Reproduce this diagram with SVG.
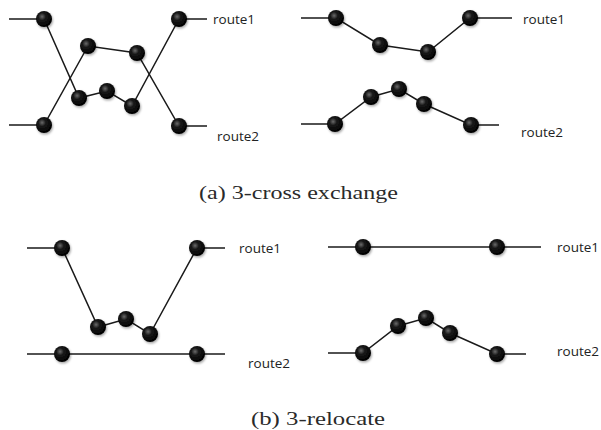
<svg xmlns="http://www.w3.org/2000/svg" width="601" height="430" viewBox="0 0 601 430">
  <defs>
    <radialGradient id="ball" cx="0.38" cy="0.35" r="0.65">
      <stop offset="0" stop-color="#6a6a6a"/>
      <stop offset="0.35" stop-color="#1a1a1a"/>
      <stop offset="1" stop-color="#000"/>
    </radialGradient>
    <filter id="shadow" x="-50%" y="-50%" width="200%" height="200%">
      <feDropShadow dx="1" dy="1.5" stdDeviation="1.2" flood-color="#000" flood-opacity="0.35"/>
    </filter>
  </defs>
  <style>
    .edge { stroke: #1a1a1a; stroke-width: 1.5; fill: none; }
    .node { fill: url(#ball); filter: url(#shadow); }
    .route { font-family: "Open Sans", "Liberation Sans", sans-serif; font-size: 13.5px; fill: #222; }
    .caption { font-family: "Liberation Serif", "DejaVu Serif", serif; font-size: 18px; fill: #2a2a2a; }
  </style>
  <rect width="601" height="430" fill="#fff"/>

  <!-- connectors -->
  <g id="connectors">
    <!-- (a) before exchange -->
    <polyline class="edge" points="9,19 44,19 79,98 107,91 132,106 179,19 207,19"/>
    <polyline class="edge" points="9,125 44,125 88,46 137,53 179,126 207,126"/>
    <!-- (a) after exchange -->
    <polyline class="edge" points="301,18 336,18 380,45 428,52 470,18 512,18"/>
    <polyline class="edge" points="301,124 335,124 371,97 399,89 424,104 471,125 499,125"/>
    <!-- (b) before relocate -->
    <polyline class="edge" points="27,248 62,248 98,327 126,319 150,334 197,248 225,248"/>
    <polyline class="edge" points="27,354 225,354"/>
    <!-- (b) after relocate -->
    <polyline class="edge" points="328,247 541,247"/>
    <polyline class="edge" points="328,353 363,353 398,326 426,318 450,333 497,354 526,354"/>
  </g>

  <!-- (a) left panel nodes -->
  <g id="a1-n1"><circle class="node" cx="44" cy="19" r="8"/></g>
  <g id="a1-n2"><circle class="node" cx="79" cy="98" r="8"/></g>
  <g id="a1-n3"><circle class="node" cx="107" cy="91" r="8"/></g>
  <g id="a1-n4"><circle class="node" cx="132" cy="106" r="8"/></g>
  <g id="a1-n5"><circle class="node" cx="179" cy="19" r="8"/></g>
  <g id="a1-n6"><circle class="node" cx="44" cy="125" r="8"/></g>
  <g id="a1-n7"><circle class="node" cx="88" cy="46" r="8"/></g>
  <g id="a1-n8"><circle class="node" cx="137" cy="53" r="8"/></g>
  <g id="a1-n9"><circle class="node" cx="179" cy="126" r="8"/></g>

  <!-- (a) right panel nodes -->
  <g id="a2-n1"><circle class="node" cx="336" cy="18" r="8"/></g>
  <g id="a2-n2"><circle class="node" cx="380" cy="45" r="8"/></g>
  <g id="a2-n3"><circle class="node" cx="428" cy="52" r="8"/></g>
  <g id="a2-n4"><circle class="node" cx="470" cy="18" r="8"/></g>
  <g id="a2-n5"><circle class="node" cx="335" cy="124" r="8"/></g>
  <g id="a2-n6"><circle class="node" cx="371" cy="97" r="8"/></g>
  <g id="a2-n7"><circle class="node" cx="399" cy="89" r="8"/></g>
  <g id="a2-n8"><circle class="node" cx="424" cy="104" r="8"/></g>
  <g id="a2-n9"><circle class="node" cx="471" cy="125" r="8"/></g>

  <!-- (b) left panel nodes -->
  <g id="b1-n1"><circle class="node" cx="62" cy="248" r="8"/></g>
  <g id="b1-n2"><circle class="node" cx="98" cy="327" r="8"/></g>
  <g id="b1-n3"><circle class="node" cx="126" cy="319" r="8"/></g>
  <g id="b1-n4"><circle class="node" cx="150" cy="334" r="8"/></g>
  <g id="b1-n5"><circle class="node" cx="197" cy="248" r="8"/></g>
  <g id="b1-n6"><circle class="node" cx="62" cy="354" r="8"/></g>
  <g id="b1-n7"><circle class="node" cx="197" cy="354" r="8"/></g>

  <!-- (b) right panel nodes -->
  <g id="b2-n1"><circle class="node" cx="363" cy="247" r="8"/></g>
  <g id="b2-n2"><circle class="node" cx="497" cy="247" r="8"/></g>
  <g id="b2-n3"><circle class="node" cx="363" cy="353" r="8"/></g>
  <g id="b2-n4"><circle class="node" cx="398" cy="326" r="8"/></g>
  <g id="b2-n5"><circle class="node" cx="426" cy="318" r="8"/></g>
  <g id="b2-n6"><circle class="node" cx="450" cy="333" r="8"/></g>
  <g id="b2-n7"><circle class="node" cx="497" cy="354" r="8"/></g>

  <!-- route labels -->
  <g id="labels">
    <text class="route" x="213" y="24">route1</text>
    <text class="route" x="217" y="141">route2</text>
    <text class="route" x="523" y="24">route1</text>
    <text class="route" x="521" y="137">route2</text>
    <text class="route" x="239" y="253">route1</text>
    <text class="route" x="248" y="368">route2</text>
    <text class="route" x="557" y="252">route1</text>
    <text class="route" x="557" y="356">route2</text>
  </g>

  <!-- captions -->
  <text class="caption" x="199" y="199" textLength="199" lengthAdjust="spacingAndGlyphs">(a) 3-cross exchange</text>
  <text class="caption" x="251" y="425" textLength="134" lengthAdjust="spacingAndGlyphs">(b) 3-relocate</text>
</svg>
